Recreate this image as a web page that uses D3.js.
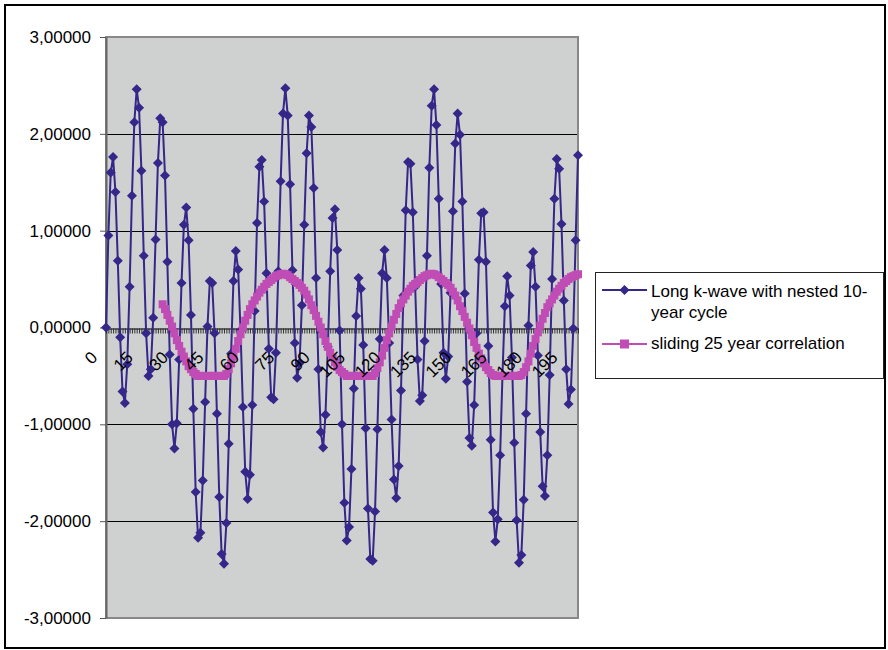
<!DOCTYPE html>
<html><head><meta charset="utf-8">
<script src="https://cdn.jsdelivr.net/npm/d3@7"></script>
<style>
body{margin:0;background:#fff}
svg{display:block}
text{font-family:"Liberation Sans",Arial,sans-serif}
</style>
</head><body>
<svg id="chart" width="888" height="650"></svg>
<script>
// ---------- data ----------
const categories = d3.range(0, 201);   // category labels 0..200

const kwave = [
 0.00, 0.95, 1.60, 1.76, 1.40, 0.69,-0.10,-0.66,-0.78,-0.38,
 0.42, 1.36, 2.12, 2.46, 2.27, 1.62, 0.74,-0.06,-0.50,-0.43,
 0.10, 0.91, 1.70, 2.16, 2.12, 1.57, 0.68,-0.28,-1.00,-1.25,
-0.99,-0.33, 0.46, 1.06, 1.24, 0.90, 0.13,-0.84,-1.70,-2.17,
-2.12,-1.58,-0.77, 0.01, 0.48, 0.46,-0.06,-0.89,-1.75,-2.34,
-2.44,-2.02,-1.20,-0.27, 0.48, 0.79, 0.60,-0.03,-0.82,-1.49,
-1.77,-1.52,-0.80, 0.17, 1.08, 1.66, 1.73, 1.30, 0.56,-0.22,
-0.72,-0.74,-0.26, 0.58, 1.51, 2.21, 2.47, 2.19, 1.48, 0.59,
-0.16,-0.52,-0.37, 0.23, 1.06, 1.80, 2.19, 2.07, 1.44, 0.51,
-0.43,-1.08,-1.24,-0.90,-0.20, 0.58, 1.13, 1.22, 0.80,-0.03,
-1.00,-1.81,-2.20,-2.06,-1.46,-0.63, 0.12, 0.51, 0.40,-0.18,
-1.04,-1.87,-2.39,-2.41,-1.90,-1.05,-0.12, 0.56, 0.80, 0.51,
-0.16,-0.95,-1.57,-1.76,-1.43,-0.65, 0.33, 1.21, 1.71, 1.69,
 1.19, 0.42,-0.33,-0.76,-0.70,-0.14, 0.74, 1.65, 2.29, 2.46,
 2.09, 1.33, 0.45,-0.26,-0.53,-0.30, 0.36, 1.20, 1.90, 2.21,
 1.99, 1.30, 0.35,-0.56,-1.14,-1.22,-0.80,-0.06, 0.70, 1.18,
 1.19, 0.68,-0.19,-1.16,-1.91,-2.21,-1.98,-1.32,-0.49, 0.22,
 0.53, 0.33,-0.31,-1.19,-1.99,-2.43,-2.35,-1.78,-0.89, 0.02,
 0.64, 0.78, 0.42,-0.29,-1.08,-1.64,-1.74,-1.32,-0.49, 0.50,
 1.33, 1.74, 1.64, 1.07, 0.28,-0.43,-0.79,-0.64,-0.01, 0.90,
 1.78
];

const corrStart = 24;   // first category that has a correlation value
const corr = [
 0.24, 0.19, 0.13, 0.07, 0.01,-0.06,-0.13,-0.19,-0.25,-0.30,
-0.35,-0.40,-0.43,-0.46,-0.48,-0.50,-0.50,-0.50,-0.50,-0.50,
-0.50,-0.50,-0.50,-0.50,-0.50,-0.50,-0.50,-0.48,-0.43,-0.37,
-0.30,-0.22,-0.14,-0.07, 0.00, 0.07, 0.13, 0.19, 0.24, 0.28,
 0.32, 0.36, 0.39, 0.42, 0.45, 0.47, 0.49, 0.51, 0.53, 0.54,
 0.55, 0.555,0.55, 0.54, 0.52, 0.50, 0.48, 0.46, 0.44, 0.41,
 0.38, 0.34, 0.29, 0.23, 0.18, 0.12, 0.06, 0.00,-0.07,-0.14,
-0.20,-0.26,-0.31,-0.36,-0.41,-0.44,-0.46,-0.48,-0.50,-0.50,
-0.50,-0.50,-0.50,-0.50,-0.50,-0.50,-0.50,-0.50,-0.50,-0.50,
-0.47,-0.42,-0.36,-0.29,-0.21,-0.13,-0.06, 0.01, 0.08, 0.14,
 0.20, 0.25, 0.29, 0.33, 0.37, 0.40, 0.43, 0.45, 0.47, 0.49,
 0.51, 0.53, 0.54, 0.55, 0.555,0.55, 0.54, 0.52, 0.50, 0.48,
 0.46, 0.44, 0.41, 0.37, 0.33, 0.28, 0.22, 0.17, 0.11, 0.05,
-0.01,-0.08,-0.15,-0.21,-0.27,-0.32,-0.37,-0.41,-0.44,-0.47,
-0.49,-0.50,-0.50,-0.50,-0.50,-0.50,-0.50,-0.50,-0.50,-0.50,
-0.50,-0.50,-0.49,-0.46,-0.41,-0.35,-0.27,-0.19,-0.12,-0.05,
 0.02, 0.09, 0.15, 0.21, 0.25, 0.29, 0.33, 0.37, 0.40, 0.43,
 0.46, 0.48, 0.50, 0.52, 0.53, 0.54, 0.55
];

const yTicks = [-3, -2, -1, 0, 1, 2, 3];
const xLabelEvery = 15;
const legendLines = [
  ["Long k-wave with nested 10-", "year cycle"],
  ["sliding 25 year correlation"]
];

// ---------- styles ----------
const BLUE = "#34278a";
const PINK = "#c04cb5";
const PLOT_BG = "#cfd0d0";
const FONT = '"Liberation Sans", Arial, sans-serif';

const svg = d3.select("#chart");
const W = 888, H = 650;
const L = 106, R = 578, T = 37, B = 618;

svg.append("rect").attr("width", W).attr("height", H).attr("fill", "#fff");
svg.append("rect").attr("x", 5).attr("y", 5).attr("width", 880).attr("height", 643)
  .attr("fill", "none").attr("stroke", "#000").attr("stroke-width", 2);

const x = d3.scalePoint().domain(categories).range([L, R]);
const y = d3.scaleLinear().domain([-3, 3]).range([B, T]);

// plot area
svg.append("rect").attr("x", L).attr("y", T).attr("width", R - L).attr("height", B - T)
  .attr("fill", PLOT_BG);

// gridlines
svg.append("g").selectAll("line").data(yTicks.filter(d => d !== 3 && d !== -3 && d !== 0))
  .join("line")
  .attr("x1", L).attr("x2", R)
  .attr("y1", d => Math.round(y(d)) + 0.5).attr("y2", d => Math.round(y(d)) + 0.5)
  .attr("stroke", "#000").attr("stroke-width", 1);

// plot border
svg.append("rect").attr("x", L).attr("y", T).attr("width", R - L).attr("height", B - T)
  .attr("fill", "none").attr("stroke", "#888").attr("stroke-width", 2);

// y axis
const loc = d3.formatLocale({decimal: ",", thousands: ".", grouping: [3], currency: ["", ""], minus: "-"});
const fmt = loc.format(".5f");
const yAxis = svg.append("g").attr("transform", `translate(${L},0)`)
  .call(d3.axisLeft(y).tickValues(yTicks).tickSize(6).tickSizeOuter(0).tickPadding(9).tickFormat(fmt));
yAxis.select(".domain").attr("stroke", "#666").attr("stroke-width", 2);
yAxis.selectAll(".tick line").attr("stroke", "#555");
yAxis.selectAll("text").attr("font-size", 17).attr("fill", "#000").style("font-family", FONT);

// x axis line and ticks at value 0
const x0 = Math.round(y(0)) + 0.5;
const xAxis = svg.append("g").attr("transform", `translate(0,${x0})`)
  .call(d3.axisBottom(x).tickValues(categories).tickSize(5).tickSizeOuter(0).tickFormat(""));
xAxis.select(".domain").attr("stroke", "#000").attr("stroke-width", 1);
xAxis.selectAll(".tick line").attr("stroke", "#222").attr("stroke-width", 0.9);

// series 1: k-wave
const lineK = d3.line().x((d, i) => x(categories[i])).y(d => y(d));
svg.append("path").datum(kwave).attr("d", lineK)
  .attr("fill", "none").attr("stroke", BLUE).attr("stroke-width", 2).attr("stroke-linejoin", "round");
const diamond = "M0,-5L5,0L0,5L-5,0Z";
svg.append("g").selectAll("path").data(kwave).join("path")
  .attr("d", diamond)
  .attr("transform", (d, i) => `translate(${x(categories[i])},${y(d)})`)
  .attr("fill", BLUE);

// series 2: sliding correlation
const lineC = d3.line().x((d, i) => x(categories[corrStart + i])).y(d => y(d));
svg.append("path").datum(corr).attr("d", lineC)
  .attr("fill", "none").attr("stroke", PINK).attr("stroke-width", 3);
svg.append("g").selectAll("rect").data(corr).join("rect")
  .attr("x", (d, i) => x(categories[corrStart + i]) - 4)
  .attr("y", d => y(d) - 4)
  .attr("width", 8).attr("height", 8)
  .attr("fill", PINK);

// x tick labels drawn on top of the series
const xLab = svg.append("g").attr("transform", `translate(0,${x0})`)
  .call(d3.axisBottom(x).tickValues(categories.filter(d => d % xLabelEvery === 0))
    .tickSize(0).tickSizeOuter(0).tickFormat(d => String(d)));
xLab.select(".domain").remove();
xLab.selectAll("text")
  .attr("font-size", 17).attr("fill", "#000").style("font-family", FONT)
  .attr("text-anchor", "end").attr("dy", null).attr("x", null).attr("y", null)
  .attr("transform", "translate(-8,30) rotate(-45)");

// legend
const lg = svg.append("g");
lg.append("rect").attr("x", 595.5).attr("y", 272.5).attr("width", 288).attr("height", 106)
  .attr("fill", "#fff").attr("stroke", "#222").attr("stroke-width", 1);
lg.append("line").attr("x1", 602).attr("x2", 647).attr("y1", 290).attr("y2", 290)
  .attr("stroke", BLUE).attr("stroke-width", 2);
lg.append("path").attr("d", diamond).attr("transform", "translate(624.5,290)").attr("fill", BLUE);
legendLines[0].forEach((s, k) => {
  lg.append("text").attr("x", 651).attr("y", 297 + k * 21).attr("font-size", 17).attr("fill", "#000").text(s);
});
lg.append("line").attr("x1", 602).attr("x2", 647).attr("y1", 344).attr("y2", 344)
  .attr("stroke", PINK).attr("stroke-width", 2);
lg.append("rect").attr("x", 620).attr("y", 339.5).attr("width", 9).attr("height", 9).attr("fill", PINK);
legendLines[1].forEach((s, k) => {
  lg.append("text").attr("x", 651).attr("y", 349 + k * 21).attr("font-size", 17).attr("fill", "#000").text(s);
});
</script>
</body></html>
